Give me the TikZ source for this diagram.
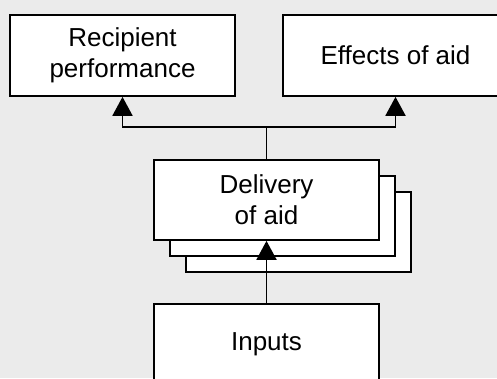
\documentclass[tikz,border=0pt]{standalone}
\usepackage{fontspec}
\setmainfont{Liberation Sans}
\usetikzlibrary{arrows.meta}

\begin{document}
\begin{tikzpicture}[x=1pt,y=-1pt,>={Triangle[width=20pt,length=19pt]}]
				\tikzstyle{boxes} = [draw=black, fill=white, line width=1.7pt, minimum width=225pt, minimum height=81pt, align=center, inner sep=0pt, font=\fontsize{26}{31}\selectfont]
				\tikzstyle{result} = [boxes]
				\tikzstyle{stage} = [boxes, minimum height=80pt]
				\tikzstyle{link} = [line width=1.9pt]

				\clip (0,0) rectangle (497,378);
				\fill[black!8] (0,0) rectangle (497,378);

				\node[result] (Recipient) at (122.5,55.5) {Recipient\\performance};
				\node[result] (Effects) at (395.5,55.5) {Effects of aid};

				\node[stage] (DeliveryThree) at (298.5,232) {};
				\node[stage] (DeliveryTwo) at (282.5,216) {};
				\node[stage] (Delivery) at (266.5,200) {Delivery\\of aid};

				\node[stage] (Inputs) at (266.5,344) {Inputs};

				\coordinate (Split) at (266.5,127);
				\draw[link] (Delivery.north) -- (Split);
				\draw[->, link] (Split) -| (Recipient.south);
				\draw[->, link] (Split) -| (Effects.south);
				\draw[->, link] (Inputs.north) -- (Delivery.south);

\end{tikzpicture}
\end{document}
